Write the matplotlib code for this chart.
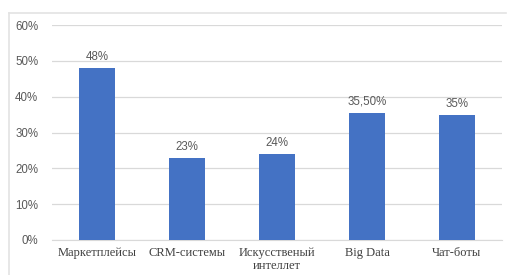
import matplotlib.pyplot as plt
from matplotlib.lines import Line2D
from matplotlib.ticker import FuncFormatter

categories = ["Маркетплейсы", "CRM-системы", "Искусственый\nинтеллет", "Big Data", "Чат-боты"]
values = [48, 23, 24, 35.5, 35]
value_labels = ["48%", "23%", "24%", "35,50%", "35%"]
y_ticks = [0, 10, 20, 30, 40, 50, 60]

BAR_COLOR = "#4472c4"
GRID_COLOR = "#d9d9d9"
TEXT_GRAY = "#595959"

fig = plt.figure(figsize=(5.07, 2.75), dpi=100)
ax = fig.add_axes([52 / 507, 1 - 240 / 275, 450 / 507, 215 / 275])

x = list(range(len(categories)))
ax.bar(x, values, width=0.41, color=BAR_COLOR, zorder=3)

for xi, v, lab in zip(x, values, value_labels):
    ax.text(xi, v + 1.4, lab, ha="center", va="bottom", fontsize=8.3,
            color=TEXT_GRAY, family="Liberation Sans")

ax.set_xlim(-0.5, len(categories) - 0.5)
ax.set_ylim(0, 60)
ax.set_yticks(y_ticks)
ax.yaxis.set_major_formatter(FuncFormatter(lambda v, p: f"{v:.0f}%"))
ax.grid(axis="y", color=GRID_COLOR, linewidth=0.9, zorder=0)
for s in ax.spines.values():
    s.set_visible(False)
ax.spines["bottom"].set_visible(True)
ax.spines["bottom"].set_color(GRID_COLOR)
ax.tick_params(length=0)
ax.tick_params(axis="y", pad=10, labelsize=8.3, labelcolor=TEXT_GRAY)
ax.tick_params(axis="x", pad=5, labelsize=9, labelcolor="#404040")
for t in ax.get_yticklabels():
    t.set_family("Liberation Sans")
ax.set_xticks(x)
ax.set_xticklabels(categories, family="Liberation Serif", linespacing=1.15)

# chart frame (top and left edges)
fig.add_artist(Line2D([8.5 / 507, 506 / 507], [1 - 12.5 / 275] * 2,
                      color="#e3e3e3", linewidth=1.2))
fig.add_artist(Line2D([8.5 / 507] * 2, [0, 1 - 12.5 / 275],
                      color="#e3e3e3", linewidth=1.2))

fig.savefig("out.png", dpi=100)
